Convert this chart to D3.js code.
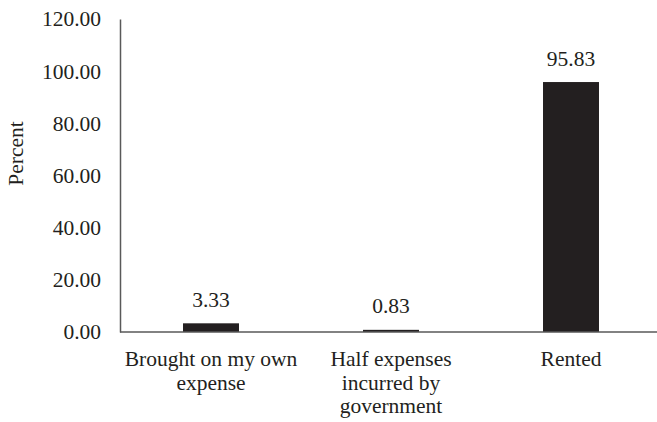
<!DOCTYPE html>
<html>
<head>
<meta charset="utf-8">
<script src="https://cdn.jsdelivr.net/npm/d3@7"></script>
<style>
  body { margin: 0; background: #fff; overflow: hidden; }
  svg { display: block; }
</style>
</head>
<body>
<div id="chart"></div>
<script>
const categories = [
  ["Brought on my own", "expense"],
  ["Half expenses", "incurred by", "government"],
  ["Rented"]
];
const values = [3.33, 0.83, 95.83];
const yTicks = [0, 20, 40, 60, 80, 100, 120];

const width = 657, height = 422;
const margin = {top: 19, right: -4, bottom: 90, left: 121};
const font = "Liberation Serif";
const fontSize = 21.5;

const svg = d3.select("#chart").append("svg")
    .attr("width", width)
    .attr("height", height)
    .attr("font-family", font)
    .style("font-family", font);

const x = d3.scaleBand()
    .domain(d3.range(values.length))
    .range([margin.left, width - margin.right])
    .paddingInner(0.689)
    .paddingOuter(0.3445);

const y = d3.scaleLinear()
    .domain([0, 120])
    .range([height - margin.bottom, margin.top]);

// bars
svg.append("g")
  .selectAll("rect")
  .data(values)
  .join("rect")
    .attr("x", (d, i) => x(i))
    .attr("y", d => y(d))
    .attr("width", x.bandwidth())
    .attr("height", d => y(0) - y(d))
    .attr("fill", "#231f20");

// value labels
svg.append("g")
    .attr("font-family", font)
  .selectAll("text")
  .data(values)
  .join("text")
    .attr("x", (d, i) => x(i) + x.bandwidth() / 2)
    .attr("y", d => y(d) - 16.5)
    .attr("text-anchor", "middle")
    .attr("font-family", font)
    .style("font-family", font)
    .attr("font-size", fontSize)
    .attr("fill", "#231f20")
    .text(d => d.toFixed(2));

// y axis
svg.append("g")
    .attr("transform", `translate(${margin.left - 1},0)`)
    .call(d3.axisLeft(y).tickValues(yTicks).tickSize(0).tickPadding(19)
      .tickFormat(d => d.toFixed(2)))
    .call(g => g.select(".domain").attr("stroke", "#595959").attr("stroke-width", 1.5))
    .call(g => g.selectAll(".tick text")
      .attr("font-family", font)
      .attr("font-size", fontSize)
      .attr("fill", "#231f20"));

// baseline
svg.append("line")
    .attr("x1", margin.left - 1)
    .attr("x2", width)
    .attr("y1", y(0))
    .attr("y2", y(0))
    .attr("stroke", "#595959")
    .attr("stroke-width", 1.5);

// category labels
const cat = svg.append("g")
    .attr("font-family", font)
  .selectAll("text")
  .data(categories)
  .join("text")
    .attr("x", (d, i) => x(i) + x.bandwidth() / 2)
    .attr("y", y(0) + 34)
    .attr("text-anchor", "middle")
    .attr("font-family", font)
    .style("font-family", font)
    .attr("font-size", fontSize)
    .attr("fill", "#231f20");

cat.selectAll("tspan")
  .data(d => d)
  .join("tspan")
    .attr("x", function() { return this.parentNode.getAttribute("x"); })
    .attr("dy", (d, i) => i === 0 ? 0 : 23.5)
    .style("font-family", font)
    .text(d => d);

// y axis title
svg.append("text")
    .attr("transform", `translate(23,${(y(0) + y(120)) / 2 - 22}) rotate(-90)`)
    .attr("text-anchor", "middle")
    .attr("font-family", font)
    .attr("font-size", fontSize)
    .attr("fill", "#231f20")
    .text("Percent");
</script>
</body>
</html>
